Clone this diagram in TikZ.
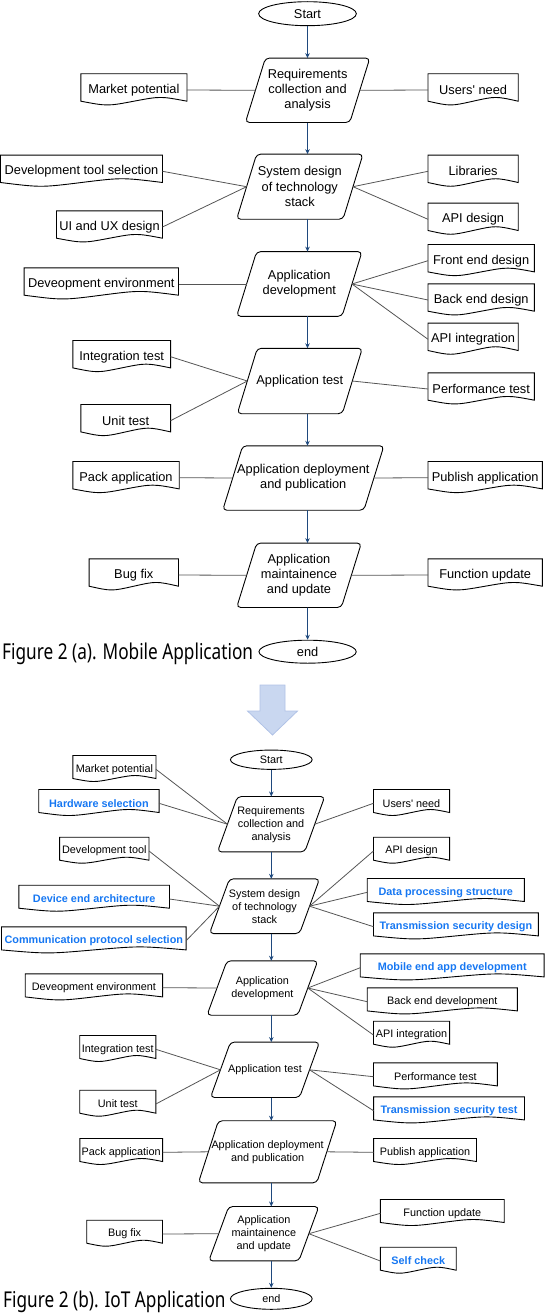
\documentclass[tikz,border=0pt]{standalone}
\usepackage{fontspec}
\setmainfont{Liberation Sans}
\newfontfamily\capfont[FakeStretch=0.79]{Noto Sans}
\usepackage{xcolor}
\definecolor{flowblue}{RGB}{31,73,125}
\definecolor{iotblue}{RGB}{22,119,242}
\definecolor{linkgray}{RGB}{85,85,85}
\definecolor{arrowfill}{RGB}{201,215,240}
\definecolor{arrowedge}{RGB}{176,194,230}
\usepackage{tikz}
\usetikzlibrary{shapes.geometric}
\usetikzlibrary{arrows.meta}
\usetikzlibrary{calc}

\tikzset{
  big/.style={font=\fontsize{12.8}{15.3}\selectfont},
  small/.style={font=\fontsize{10.85}{13}\selectfont},
  iot/.style={text=iotblue, font=\fontsize{10.85}{13}\selectfont\bfseries},
  term/.style={ellipse, draw, line width=0.9pt, inner sep=0pt},
  stepbox/.style={rectangle, inner sep=0pt, align=center},
  docbox/.style={rectangle, inner sep=0pt, align=center},
  outline/.style={draw=black, line width=0.9pt},
  flow/.style={draw=flowblue, line width=0.8pt, -{Stealth[length=5pt,width=4.5pt]}},
  link/.style={draw=linkgray, line width=0.8pt},
  caption/.style={font=\capfont\fontsize{21.8}{24}\selectfont, inner sep=0pt}
}

% parallelogram drawn round a step node
\newcommand{\stepline}[2]{\draw[outline, rounded corners=4pt] ([xshift=-#2]#1.south west) -- ([xshift=#2]#1.north west) -- ([xshift=#2]#1.north east) -- ([xshift=-#2]#1.south east) -- cycle;}
% document shape (wavy bottom) drawn round a doc node
\newcommand{\docline}[3]{\draw[outline] ([yshift=#2]#1.north west) -- ([yshift=#2]#1.north east) -- (#1.south east) .. controls ($(#1.south)!.5!(#1.south east)+(0pt,#3)$) .. (#1.south) .. controls ($(#1.south)!.5!(#1.south west)-(0pt,#3)$) .. (#1.south west) -- cycle;}

\begin{document}
\begin{tikzpicture}[x=1pt, y=-1pt]
    \useasboundingbox (0,0) rectangle (545,1314);

    % Figure 2 (a)
    \node [term, big, minimum width=97.7pt, minimum height=24pt] (starta) at (307.5,13.7) {Start};
    \node [stepbox, big, minimum width=104pt, minimum height=64pt] (reqa) at (307.6,90.3) {Requirements\\collection and\\analysis};
    \node [stepbox, big, minimum width=106pt, minimum height=64.7pt] (sysa) at (299.8,186.7) {System design\\of technology\\stack};
    \node [stepbox, big, minimum width=105pt, minimum height=64.3pt] (deva) at (299.3,284) {Application\\development};
    \node [stepbox, big, minimum width=104.6pt, minimum height=65pt] (testa) at (299.8,381) {Application test};
    \node [stepbox, big, minimum width=140.8pt, minimum height=64pt] (depa) at (303.3,478) {Application deployment\\and publication};
    \node [stepbox, big, minimum width=104.3pt, minimum height=64pt] (mnta) at (299,575.3) {Application\\maintainence\\and update};
    \node [term, big, minimum width=97.3pt, minimum height=23pt] (enda) at (307.6,651.7) {end};

    \node [docbox, big, minimum width=105.7pt, minimum height=22pt] (mpa) at (133.9,90) {Market potential};
    \node [docbox, big, minimum width=161.6pt, minimum height=22pt] (dtsa) at (81.5,171.3) {Development tool selection};
    \node [docbox, big, minimum width=105.6pt, minimum height=22pt] (uixa) at (109.5,227) {UI and UX design};
    \node [docbox, big, minimum width=154pt, minimum height=22pt] (denva) at (101.3,284) {Deveopment environment};
    \node [docbox, big, minimum width=97.3pt, minimum height=22pt] (ita) at (121.7,356.7) {Integration test};
    \node [docbox, big, minimum width=89.3pt, minimum height=22pt] (uta) at (125.7,420.7) {Unit test};
    \node [docbox, big, minimum width=106pt, minimum height=22pt] (packa) at (126,477.7) {Pack application};
    \node [docbox, big, minimum width=89pt, minimum height=22pt] (buga) at (133.8,575) {Bug fix};
    \node [docbox, big, minimum width=89.8pt, minimum height=22pt] (una) at (473.1,90) {Users\textquotesingle\ need};
    \node [docbox, big, minimum width=89.8pt, minimum height=22pt] (liba) at (473.1,171.3) {Libraries};
    \node [docbox, big, minimum width=89.8pt, minimum height=22pt] (apia) at (473.1,219.3) {API design};
    \node [docbox, big, minimum width=106pt, minimum height=22pt] (fea) at (481.2,260.7) {Front end design};
    \node [docbox, big, minimum width=106pt, minimum height=22pt] (bea) at (481.2,300) {Back end design};
    \node [docbox, big, minimum width=89.8pt, minimum height=22pt] (aia) at (473.1,339.3) {API integration};
    \node [docbox, big, minimum width=106pt, minimum height=22pt] (pta) at (481.2,389) {Performance test};
    \node [docbox, big, minimum width=114pt, minimum height=22pt] (puba) at (485.2,477.7) {Publish application};
    \node [docbox, big, minimum width=114pt, minimum height=22pt] (fua) at (485.2,575) {Function update};

    \foreach \n in {reqa,sysa,deva,testa,depa,mnta} {\stepline{\n}{10pt}}
    \foreach \n in {mpa,dtsa,uixa,denva,ita,uta,packa,buga,una,liba,apia,fea,bea,aia,pta,puba,fua} {\docline{\n}{5pt}{5pt}}

    \draw [flow] (starta.south) -- (reqa.north -| starta);
    \draw [flow] (reqa.south -| starta) -- (sysa.north -| starta);
    \draw [flow] (sysa.south -| starta) -- (deva.north -| starta);
    \draw [flow] (deva.south -| starta) -- (testa.north -| starta);
    \draw [flow] (testa.south -| starta) -- (depa.north -| starta);
    \draw [flow] (depa.south -| starta) -- (mnta.north -| starta);
    \draw [flow] (mnta.south -| starta) -- (enda.north);

    \draw [link] (mpa.east) -- (reqa.west);
    \draw [link] (una.west) -- (reqa.east);
    \draw [link] (dtsa.east) -- (sysa.west);
    \draw [link] (uixa.east) -- (sysa.west);
    \draw [link] (liba.west) -- (sysa.east);
    \draw [link] (apia.west) -- (sysa.east);
    \draw [link] (denva.east) -- (deva.west);
    \draw [link] (fea.west) -- (deva.east);
    \draw [link] (bea.west) -- (deva.east);
    \draw [link] (aia.west) -- (deva.east);
    \draw [link] (ita.east) -- (testa.west);
    \draw [link] (uta.east) -- (testa.west);
    \draw [link] (pta.west) -- (testa.east);
    \draw [link] (packa.east) -- (depa.west);
    \draw [link] (puba.west) -- (depa.east);
    \draw [link] (buga.east) -- (mnta.west);
    \draw [link] (fua.west) -- (mnta.east);

    \node [caption, anchor=base west] (capa) at (2,659.3) {Figure 2 (a). Mobile Application};

    % arrow between the two figures
    \draw [draw=arrowedge, fill=arrowfill, line width=0.8pt] (260,685) -- (285,685) -- (285,711) -- (297.5,711) -- (272.5,735) -- (247.5,711) -- (260,711) -- cycle;

    % Figure 2 (b)
    \node [term, small, minimum width=81.7pt, minimum height=19.3pt] (startb) at (271.3,759.7) {Start};
    \node [stepbox, small, minimum width=86.9pt, minimum height=55pt] (reqb) at (271.1,824.2) {Requirements\\collection and\\analysis};
    \node [stepbox, small, minimum width=89.7pt, minimum height=54.3pt] (sysb) at (264.5,906.2) {System design\\of technology\\stack};
    \node [stepbox, small, minimum width=90.4pt, minimum height=54pt] (devb) at (262.4,988) {Application\\development};
    \node [stepbox, small, minimum width=88.7pt, minimum height=55pt] (testb) at (265,1069.8) {Application test};
    \node [stepbox, small, minimum width=118pt, minimum height=61.7pt] (depb) at (267.6,1151.8) {Application deployment\\and publication};
    \node [stepbox, small, minimum width=89.7pt, minimum height=54pt] (mntb) at (263.8,1233.7) {Application\\maintainence\\and update};
    \node [term, small, minimum width=81.7pt, minimum height=21pt] (endb) at (271.3,1298.8) {end};

    \node [docbox, small, minimum width=82.7pt, minimum height=18pt] (mpb) at (114.4,769.3) {Market potential};
    \node [docbox, iot, minimum width=119.9pt, minimum height=18pt] (hwb) at (98.9,803.3) {Hardware selection};
    \node [docbox, small, minimum width=89pt, minimum height=18pt] (dtb) at (104.3,851) {Development tool};
    \node [docbox, iot, minimum width=150.2pt, minimum height=18pt] (deab) at (94.2,899) {Device end architecture};
    \node [docbox, iot, minimum width=184.3pt, minimum height=18pt] (cpsb) at (93.8,940.7) {Communication protocol selection};
    \node [docbox, small, minimum width=136.9pt, minimum height=18pt] (denvb) at (93.9,987.7) {Deveopment environment};
    \node [docbox, small, minimum width=75.7pt, minimum height=18pt] (itb) at (117.8,1049.3) {Integration test};
    \node [docbox, small, minimum width=75.7pt, minimum height=18pt] (utb) at (117.8,1104) {Unit test};
    \node [docbox, small, minimum width=82.3pt, minimum height=18pt] (packb) at (121.2,1152.3) {Pack application};
    \node [docbox, small, minimum width=75.4pt, minimum height=18pt] (bugb) at (124.6,1234) {Bug fix};
    \node [docbox, small, minimum width=75.7pt, minimum height=18pt] (unb) at (411.5,803.3) {Users\textquotesingle\ need};
    \node [docbox, small, minimum width=75.7pt, minimum height=18pt] (apib) at (411.5,851) {API design};
    \node [docbox, iot, minimum width=156.8pt, minimum height=18pt] (dpsb) at (445.8,892.3) {Data processing structure};
    \node [docbox, iot, minimum width=164.4pt, minimum height=18pt] (tsdb) at (455.9,926.7) {Transmission security design};
    \node [docbox, iot, minimum width=183.5pt, minimum height=18pt] (meab) at (452.2,967.7) {Mobile end app development};
    \node [docbox, small, minimum width=149.8pt, minimum height=18pt] (bedb) at (442.3,1001.7) {Back end development};
    \node [docbox, small, minimum width=75.7pt, minimum height=18pt] (aib) at (411.5,1035) {API integration};
    \node [docbox, small, minimum width=123.4pt, minimum height=18pt] (ptb) at (435.4,1076.7) {Performance test};
    \node [docbox, iot, minimum width=150.5pt, minimum height=18pt] (tstb) at (449,1110.7) {Transmission security test};
    \node [docbox, small, minimum width=102.5pt, minimum height=18pt] (pubb) at (425,1152.3) {Publish application};
    \node [docbox, small, minimum width=123.4pt, minimum height=18pt] (fub) at (442.3,1213.3) {Function update};
    \node [docbox, iot, minimum width=75.4pt, minimum height=18pt] (scb) at (418.3,1261) {Self check};

    \foreach \n in {reqb,sysb,devb,testb,depb,mntb} {\stepline{\n}{10pt}}
    \foreach \n in {mpb,hwb,dtb,deab,cpsb,denvb,itb,utb,packb,bugb,unb,apib,dpsb,tsdb,meab,bedb,aib,ptb,tstb,pubb,fub,scb} {\docline{\n}{4.6pt}{4pt}}

    \draw [flow] (startb.south) -- (reqb.north -| startb);
    \draw [flow] (reqb.south -| startb) -- (sysb.north -| startb);
    \draw [flow] (sysb.south -| startb) -- (devb.north -| startb);
    \draw [flow] (devb.south -| startb) -- (testb.north -| startb);
    \draw [flow] (testb.south -| startb) -- (depb.north -| startb);
    \draw [flow] (depb.south -| startb) -- (mntb.north -| startb);
    \draw [flow] (mntb.south -| startb) -- (endb.north);

    \draw [link] (mpb.east) -- (reqb.west);
    \draw [link] (hwb.east) -- (reqb.west);
    \draw [link] (unb.west) -- (reqb.east);
    \draw [link] (dtb.east) -- (sysb.west);
    \draw [link] (deab.east) -- (sysb.west);
    \draw [link] (cpsb.east) -- (sysb.west);
    \draw [link] (apib.west) -- (sysb.east);
    \draw [link] (dpsb.west) -- (sysb.east);
    \draw [link] (tsdb.west) -- (sysb.east);
    \draw [link] (denvb.east) -- (devb.west);
    \draw [link] (meab.west) -- (devb.east);
    \draw [link] (bedb.west) -- (devb.east);
    \draw [link] (aib.west) -- (devb.east);
    \draw [link] (itb.east) -- (testb.west);
    \draw [link] (utb.east) -- (testb.west);
    \draw [link] (ptb.west) -- (testb.east);
    \draw [link] (tstb.west) -- (testb.east);
    \draw [link] (packb.east) -- (depb.west);
    \draw [link] (pubb.west) -- (depb.east);
    \draw [link] (bugb.east) -- (mntb.west);
    \draw [link] (fub.west) -- (mntb.east);
    \draw [link] (scb.west) -- (mntb.east);

    \node [caption, anchor=base west] (capb) at (3,1307.3) {Figure 2 (b). IoT Application};
  \end{tikzpicture}
\end{document}
